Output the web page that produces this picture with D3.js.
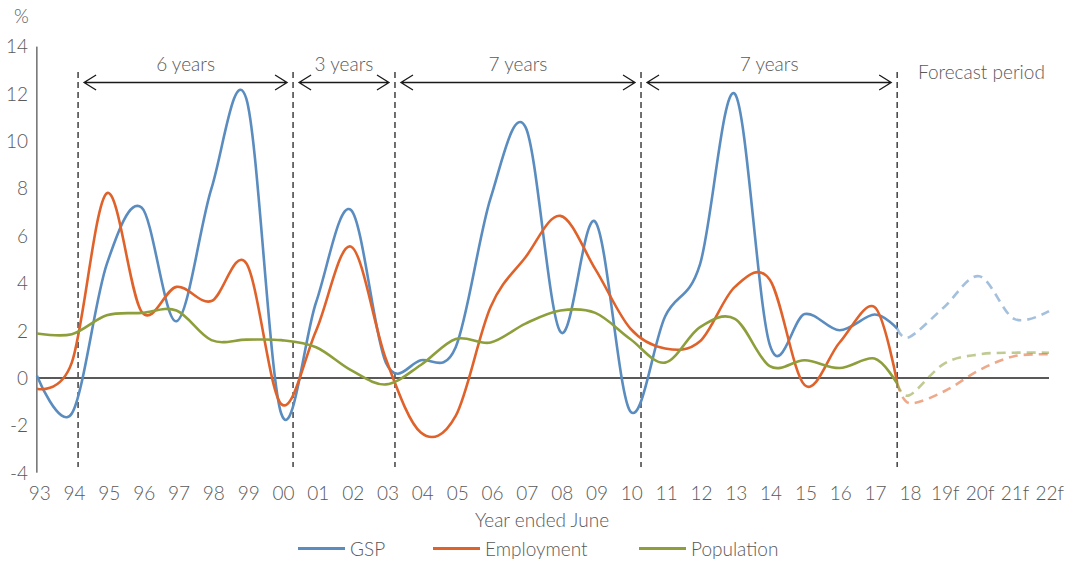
<!DOCTYPE html>
<meta charset="utf-8">
<style>
    body { margin: 0; background: #fff; }
    svg { font-family: Lato, "Open Sans", sans-serif; font-weight: 300; }
    .lbl { fill: #595959; font-size: 19px; }
    .divider { stroke: #404040; stroke-width: 1.5; stroke-dasharray: 6,4; }
    .arrow { stroke: #1a1a1a; stroke-width: 1.3; fill: none; }
    .series { fill: none; stroke-width: 2.6; }
    .forecast { stroke-dasharray: 9,6; stroke-opacity: 0.55; }
</style>

<body>
    <script src="https://d3js.org/d3.v7.min.js"></script>
    <script>
        // year labels, one per category
        var years = ['93', '94', '95', '96', '97', '98', '99', '00', '01', '02', '03', '04', '05', '06', '07',
            '08', '09', '10', '11', '12', '13', '14', '15', '16', '17', '18', '19f', '20f', '21f', '22f'];
        var yTicks = [-4, -2, 0, 2, 4, 6, 8, 10, 12, 14];

        // actual series, 93..17 (index 0..24), then the last actual observation
        var gsp = [0.1, -1.5, 4.8, 7.2, 2.4, 8.0, 11.8, -1.5, 3.2, 7.1, 0.65, 0.75, 1.3, 7.6, 10.6,
            1.95, 6.6, -1.4, 2.6, 4.8, 12.0, 1.4, 2.7, 2.02, 2.68];
        var employment = [-0.45, 0.65, 7.8, 2.8, 3.85, 3.25, 4.85, -1.1, 2.0, 5.55, 0.8, -2.3, -1.6, 3.0, 5.1,
            6.85, 4.6, 2.1, 1.25, 1.55, 3.85, 4.15, -0.3, 1.5, 3.0];
        var population = [1.88, 1.85, 2.65, 2.75, 2.85, 1.6, 1.62, 1.6, 1.3, 0.33, -0.27, 0.55, 1.65, 1.5, 2.3,
            2.85, 2.75, 1.65, 0.65, 2.15, 2.5, 0.5, 0.75, 0.42, 0.82];
        var lastActualPos = 24.65;
        var lastActual = { gsp: 2.09, employment: -0.2, population: -0.24 };

        // forecasts, 18..22f (index 25..29)
        var gspF = [1.73, 3.0, 4.3, 2.5, 2.83];
        var employmentF = [-1.06, -0.56, 0.33, 0.92, 1.0];
        var populationF = [-0.73, 0.61, 1.0, 1.07, 1.07];

        // vertical dividers (category position) and span labels
        var dividers = [1.18, 7.34, 10.26, 17.31, 24.65];
        var spans = ['6 years', '3 years', '7 years', '7 years'];

        var width = 1077, height = 563;
        var svg = d3.select('body').append('svg')
            .attr('width', width)
            .attr('height', height);

        var x = d3.scaleLinear().domain([0, 29]).range([36.9, 1049]);
        var y = d3.scaleLinear().domain([-4, 14]).range([472.7, 46.6]);

        var colors = { gsp: '#5a8cbf', employment: '#e0622b', population: '#8d9f3b' };

        // axes
        svg.append('line')
            .attr('x1', x(0)).attr('x2', x(0))
            .attr('y1', y(14)).attr('y2', y(-4))
            .attr('stroke', '#262626').attr('stroke-width', 1);

        svg.selectAll('.ylab')
            .data(yTicks)
            .enter().append('text')
            .attr('class', 'lbl')
            .attr('x', 28)
            .attr('y', function (d) { return y(d); })
            .attr('dy', '0.36em')
            .attr('text-anchor', 'end')
            .text(function (d) { return d; });

        svg.append('text')
            .attr('class', 'lbl')
            .attr('x', 14).attr('y', 23)
            .text('%');

        svg.selectAll('.xlab')
            .data(years)
            .enter().append('text')
            .attr('class', 'lbl')
            .attr('x', function (d, i) { return x(i) + 2.8 - i * 0.07; })
            .attr('y', 499.5)
            .attr('text-anchor', 'middle')
            .text(function (d) { return d; });

        svg.append('text')
            .attr('class', 'lbl')
            .attr('x', 542).attr('y', 527)
            .attr('text-anchor', 'middle')
            .text('Year ended June');

        // dividers and arrows
        svg.selectAll('.divider')
            .data(dividers)
            .enter().append('line')
            .attr('class', 'divider')
            .attr('x1', function (d) { return x(d); })
            .attr('x2', function (d) { return x(d); })
            .attr('y1', 72).attr('y2', 467);

        var ay = 82.5;
        spans.forEach(function (s, i) {
            var x1 = x(dividers[i]) + 6, x2 = x(dividers[i + 1]) - 6;
            svg.append('path')
                .attr('class', 'arrow')
                .attr('d', 'M' + x1 + ',' + ay + 'L' + x2 + ',' + ay +
                    'M' + (x1 + 12) + ',' + (ay - 7.5) + 'L' + x1 + ',' + ay + 'L' + (x1 + 12) + ',' + (ay + 7.5) +
                    'M' + (x2 - 12) + ',' + (ay - 7.5) + 'L' + x2 + ',' + ay + 'L' + (x2 - 12) + ',' + (ay + 7.5));
            svg.append('text')
                .attr('class', 'lbl')
                .attr('x', (x1 + x2) / 2).attr('y', 71)
                .attr('text-anchor', 'middle')
                .text(s);
        });

        svg.append('text')
            .attr('class', 'lbl')
            .attr('x', 918).attr('y', 79)
            .text('Forecast period');

        // zero line
        svg.append('line')
            .attr('x1', x(0)).attr('x2', x(29))
            .attr('y1', y(0)).attr('y2', y(0))
            .attr('stroke', '#595959').attr('stroke-width', 1.8);

        var line = d3.line()
            .x(function (d) { return x(d[0]); })
            .y(function (d) { return y(d[1]); })
            .curve(d3.curveCardinal.tension(0));

        function actualPts(vals, last) {
            var p = vals.map(function (v, i) { return [i, v]; });
            p.push([lastActualPos, last]);
            return p;
        }
        function forecastPts(vals, last) {
            var p = [[lastActualPos, last]];
            vals.forEach(function (v, i) { p.push([25 + i, v]); });
            return p;
        }

        var series = [
            { key: 'gsp', a: gsp, f: gspF },
            { key: 'employment', a: employment, f: employmentF },
            { key: 'population', a: population, f: populationF }
        ];

        series.forEach(function (s) {
            svg.append('path')
                .attr('class', 'series forecast')
                .attr('stroke', colors[s.key])
                .attr('d', line(forecastPts(s.f, lastActual[s.key])));
        });
        series.forEach(function (s) {
            svg.append('path')
                .attr('class', 'series')
                .attr('stroke', colors[s.key])
                .attr('d', line(actualPts(s.a, lastActual[s.key])));
        });

        // legend
        var legend = [
            { name: 'GSP', key: 'gsp', x: 298 },
            { name: 'Employment', key: 'employment', x: 433 },
            { name: 'Population', key: 'population', x: 639 }
        ];
        legend.forEach(function (l) {
            svg.append('line')
                .attr('x1', l.x).attr('x2', l.x + 47)
                .attr('y1', 548.5).attr('y2', 548.5)
                .attr('stroke', colors[l.key]).attr('stroke-width', 3);
            svg.append('text')
                .attr('class', 'lbl')
                .attr('x', l.x + 52).attr('y', 556)
                .text(l.name);
        });
    </script>
</body>
